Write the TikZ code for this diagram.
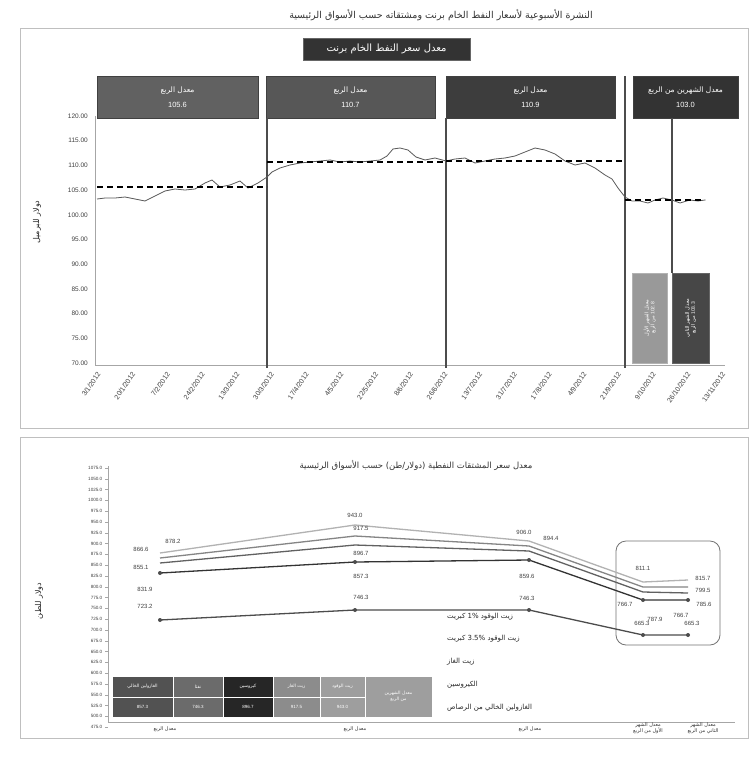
\documentclass[tikz,border=0pt]{standalone}
\usepackage{fontspec}
\setmainfont{Liberation Sans}
\newfontfamily\arfont[Script=Arabic]{DejaVu Sans}
\TeXXeTstate=1
\newcommand{\artxt}[1]{{\arfont\beginR #1\endR}}
\begin{document}
\begin{tikzpicture}[x=1pt,y=-1pt,
  panel/.style={draw=black!25,line width=1pt},
  qbox/.style={draw=black!75,line width=0.6pt,fill=#1,text=white,align=center,inner sep=0pt,font=\fontsize{7.5}{15}\selectfont},
  divider/.style={draw=black!70,line width=1.6pt},
  axisl/.style={draw=black!35,line width=0.8pt},
  ytick/.style={anchor=east,inner sep=0pt,font=\fontsize{6.5}{7}\selectfont,text=black!75},
  ytickb/.style={anchor=east,inner sep=0pt,font=\fontsize{4.6}{5}\selectfont,text=black!75},
  xdate/.style={anchor=east,inner sep=0pt,rotate=55,font=\fontsize{7}{8}\selectfont,text=black!75},
  avgline/.style={draw=black,line width=1.6pt,dash pattern=on 6pt off 4pt},
  price/.style={draw=black!65,line width=0.8pt},
  ser/.style={draw=#1,line width=1.3pt},
  dlab/.style={inner sep=0pt,font=\fontsize{6}{7}\selectfont,text=black!75},
  legtxt/.style={anchor=west,inner sep=0pt,font=\fontsize{7}{8}\selectfont,text=black!85},
  tcell/.style={draw=white,line width=0.6pt,fill=#1,text=white,align=center,inner sep=0pt,font=\fontsize{4.5}{6}\selectfont},
  xcat/.style={align=center,inner sep=0pt,font=\fontsize{5}{6}\selectfont,text=black!80},
  mk/.style={fill=black!70,draw=none}
]
\useasboundingbox (0,0) rectangle (753,764);
\fill[white] (0,0) rectangle (753,764);

% ================= top panel =================
\node[font=\fontsize{9.5}{11}\selectfont,text=black!80] (maintitle) at (441,15) {\artxt{النشرة الأسبوعية لأسعار النفط الخام برنت ومشتقاته حسب الأسواق الرئيسية}};
\draw[panel] (20,28) rectangle (748,428);

\node[fill=black!80,draw=black!60,text=white,minimum width=167pt,minimum height=22pt,inner sep=0pt,font=\fontsize{10}{12}\selectfont] (subtitle) at (386.5,49) {\artxt{معدل سعر النفط الخام برنت}};

\node[qbox=black!62,minimum width=161pt,minimum height=42pt] (q1) at (177.5,97) {\artxt{معدل الربع}\\105.6};
\node[qbox=black!66,minimum width=169pt,minimum height=42pt] (q2) at (350.5,97) {\artxt{معدل الربع}\\110.7};
\node[qbox=black!76,minimum width=169pt,minimum height=42pt] (q3) at (530.5,97) {\artxt{معدل الربع}\\110.9};
\node[qbox=black!80,minimum width=105pt,minimum height=42pt] (q4) at (685.5,97) {\artxt{معدل الشهرين من الربع}\\103.0};

% axes
\draw[axisl] (95,116) -- (95,365) -- (725,365);
\foreach \k in {0,...,10}{
  \pgfmathtruncatemacro\v{120-5*\k}
  \node[ytick] at (88,116+24.7*\k) {\v.00};
}
% dates
\foreach \d [count=\i from 0] in {3/1/2012,20/1/2012,7/2/2012,24/2/2012,13/3/2012,30/3/2012,17/4/2012,4/5/2012,22/5/2012,8/6/2012,26/6/2012,13/7/2012,31/7/2012,17/8/2012,4/9/2012,21/9/2012,9/10/2012,26/10/2012,13/11/2012}{
  \node[xdate] at (99+34.7*\i,373) {\d};
}

% dividers
\draw[divider] (267,118) -- (267,368);
\draw[divider] (446,118) -- (446,368);
\draw[divider] (625,76) -- (625,368);
\draw[divider] (672,118) -- (672,273);

% monthly boxes
\node[fill=black!40,draw=black!30,minimum width=35pt,minimum height=90pt,inner sep=0pt] (m1) at (649.5,318) {};
\node[rotate=90,text=white,align=center,font=\fontsize{5}{6}\selectfont] (m1t) at (m1) {\artxt{معدل الشهر الأول}\\ \artxt{من الربع} 102.8};
\node[fill=black!72,draw=black!60,minimum width=37pt,minimum height=90pt,inner sep=0pt] (m2) at (690.5,318) {};
\node[rotate=90,text=white,align=center,font=\fontsize{5}{6}\selectfont] (m2t) at (m2) {\artxt{معدل الشهر الثاني}\\ \artxt{من الربع} 103.3};

% price line
\draw[price] plot coordinates {(97,199) (105,198) (115,198) (125,197) (135,199) (145,201) (155,196) (165,191) (175,189) (185,190) (195,189) (205,183) (212,180) (220,187) (230,185) (240,181) (248,188) (258,183) (267,177)
 (272,172) (280,168) (290,165) (300,163) (310,162) (320,161) (330,160) (340,162) (350,161) (360,162) (370,161) (380,160) (387,156) (393,149) (400,148) (408,150) (416,157) (425,160) (435,158) (446,161)
 (455,159) (465,158) (475,163) (485,161) (495,159) (505,158) (515,156) (525,152) (535,148) (545,150) (555,154) (565,161) (575,165) (585,163) (595,168) (605,175) (612,179) (618,188) (625,197)
 (632,201) (640,201) (648,203) (655,200) (663,198) (672,200) (680,203) (690,200) (698,201) (705,200)};

% averages
\draw[avgline] (97,187) -- (267,187);
\draw[avgline] (267,162) -- (446,162);
\draw[avgline] (446,161) -- (625,161);
\draw[avgline] (625,200) -- (705,200);

% y label
\node[rotate=90,font=\fontsize{8}{9}\selectfont,text=black!85] (ylab1) at (37,222) {\artxt{دولار للبرميل}};

% ================= bottom panel =================
\draw[panel] (20,437) rectangle (748,738);
\node[font=\fontsize{8.5}{9}\selectfont,text=black!80] (subtitle2) at (416,465) {\artxt{معدل سعر المشتقات النفطية (دولار/طن) حسب الأسواق الرئيسية}};
\node[rotate=90,font=\fontsize{8}{9}\selectfont,text=black!85] (ylab2) at (39,601) {\artxt{دولار للطن}};

\draw[axisl] (108,466) -- (108,722) -- (735,722);
\foreach \k in {0,...,24}{
  \pgfmathtruncatemacro\v{1075-25*\k}
  \draw[axisl,line width=0.5pt] (105,468+10.8*\k) -- (108,468+10.8*\k);
  \node[ytickb] at (102.5,468+10.8*\k) {\v.0};
}

% rounded highlight
\draw[draw=black!55,line width=0.8pt,rounded corners=10pt] (616,541) rectangle (720,645);

% series points
\foreach \n/\ya/\yb/\yc/\yd/\ye in {a/553/525/541/582/580, b/558/536/546/587/587, c/563/545/551/592/593, d/573/562/560/600/600, e/620/610/610/635/635}{
  \coordinate (\n1) at (160,\ya);
  \coordinate (\n2) at (355,\yb);
  \coordinate (\n3) at (529,\yc);
  \coordinate (\n4) at (643,\yd);
  \coordinate (\n5) at (688,\ye);
}
\draw[ser=black!30] (a1) -- (a2) -- (a3) -- (a4) -- (a5);
\draw[ser=black!48] (b1) -- (b2) -- (b3) -- (b4) -- (b5);
\draw[ser=black!62] (c1) -- (c2) -- (c3) -- (c4) -- (c5);
\draw[ser=black!80] (d1) -- (d2) -- (d3) -- (d4) -- (d5);
\draw[ser=black!70] (e1) -- (e2) -- (e3) -- (e4) -- (e5);
\foreach \p in {d1,d2,d3,d4,d5,e1,e2,e3,e4,e5}{ \fill[mk] (\p) circle (2pt); }

% data labels
\node[dlab] at (173,541) {878.2};
\node[dlab] at (141,549) {866.6};
\node[dlab] at (141,567) {855.1};
\node[dlab] at (145,589) {831.9};
\node[dlab] at (145,606) {723.2};
\node[dlab] at (355,515) {943.0};
\node[dlab] at (361,528) {917.5};
\node[dlab] at (361,553) {896.7};
\node[dlab] at (361,576) {857.3};
\node[dlab] at (361,597) {746.3};
\node[dlab] at (524,532) {906.0};
\node[dlab] at (551,538) {894.4};
\node[dlab] at (527,576) {859.6};
\node[dlab] at (527,598) {746.3};
\node[dlab] at (643,568) {811.1};
\node[dlab] at (625,604) {766.7};
\node[dlab] at (655,619) {787.9};
\node[dlab] at (703,578) {815.7};
\node[dlab] at (703,590) {799.5};
\node[dlab] at (704,604) {785.6};
\node[dlab] at (681,615) {766.7};
\node[dlab] at (642,623) {665.3};
\node[dlab] at (692,623) {665.3};

% legend
\node[legtxt] (lg1) at (447,617) {\artxt{زيت الوقود 1\% كبريت}};
\node[legtxt] (lg2) at (447,639) {\artxt{زيت الوقود 3.5\% كبريت}};
\node[legtxt] (lg3) at (447,662) {\artxt{زيت الغاز}};
\node[legtxt] (lg4) at (447,685) {\artxt{الكيروسين}};
\node[legtxt] (lg5) at (447,708) {\artxt{الغازولين الخالي من الرصاص}};

% table
\node[tcell=black!68,minimum width=61pt,minimum height=21pt] (t11) at (142.5,686.5) {\artxt{الغازولين الخالي}};
\node[tcell=black!58,minimum width=50pt,minimum height=21pt] (t12) at (198,686.5) {\artxt{نفثا}};
\node[tcell=black!85,minimum width=50pt,minimum height=21pt] (t13) at (248,686.5) {\artxt{كيروسين}};
\node[tcell=black!45,minimum width=47pt,minimum height=21pt] (t14) at (296.5,686.5) {\artxt{زيت الغاز}};
\node[tcell=black!38,minimum width=45pt,minimum height=21pt] (t15) at (342.5,686.5) {\artxt{زيت الوقود}};
\node[tcell=black!68,minimum width=61pt,minimum height=20pt] (t21) at (142.5,707) {857.3};
\node[tcell=black!58,minimum width=50pt,minimum height=20pt] (t22) at (198,707) {746.3};
\node[tcell=black!85,minimum width=50pt,minimum height=20pt] (t23) at (248,707) {896.7};
\node[tcell=black!45,minimum width=47pt,minimum height=20pt] (t24) at (296.5,707) {917.5};
\node[tcell=black!38,minimum width=45pt,minimum height=20pt] (t25) at (342.5,707) {943.0};
\node[tcell=black!38,minimum width=67pt,minimum height=41pt] (t16) at (398.5,696.5) {\artxt{معدل الشهرين}\\ \artxt{من الربع}};

% category labels
\node[xcat] (c1) at (165,729) {\artxt{معدل الربع}};
\node[xcat] (c2) at (355,729) {\artxt{معدل الربع}};
\node[xcat] (c3) at (530,729) {\artxt{معدل الربع}};
\node[xcat] (c4) at (648,728) {\artxt{معدل الشهر}\\ \artxt{الأول من الربع}};
\node[xcat] (c5) at (703,728) {\artxt{معدل الشهر}\\ \artxt{الثاني من الربع}};
\end{tikzpicture}
\end{document}
